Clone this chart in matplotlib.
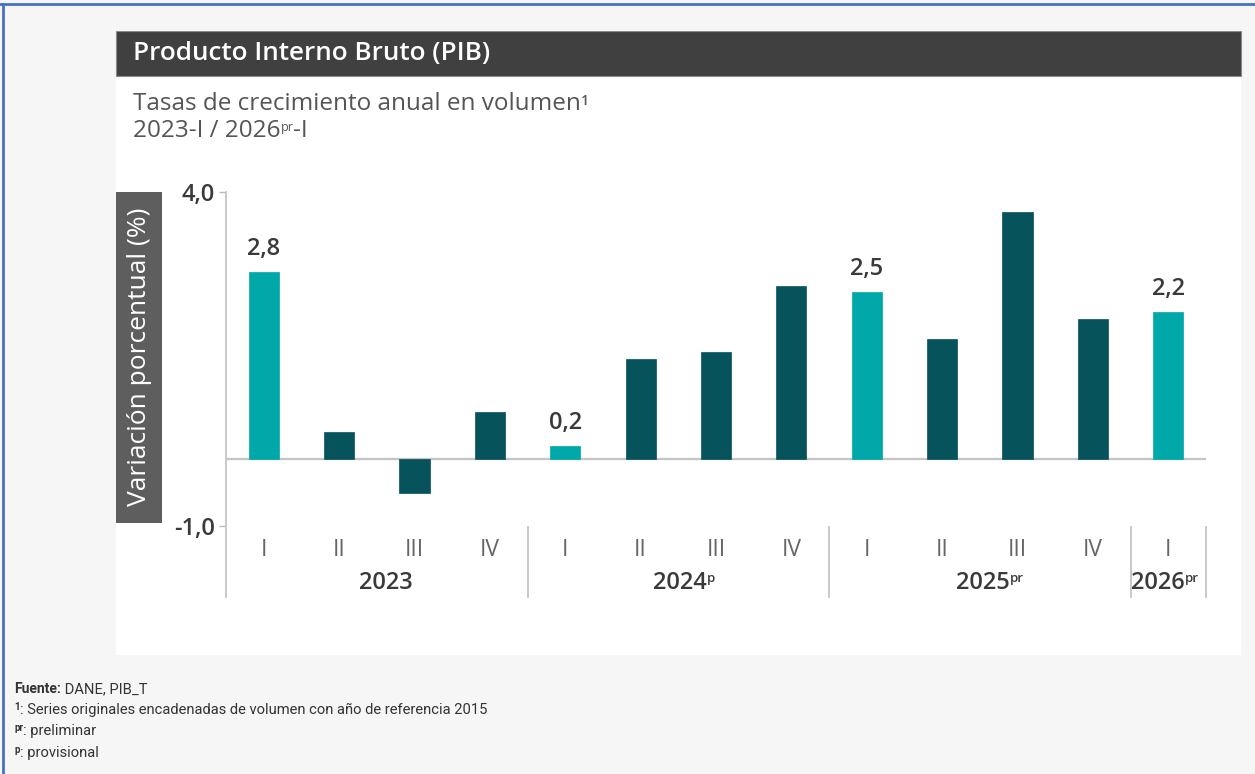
import matplotlib.pyplot as plt
import matplotlib.transforms as mtransforms
from matplotlib.patches import Rectangle
from matplotlib.lines import Line2D
import numpy as np

plt.rcParams['font.family'] = ['Open Sans', 'DejaVu Sans']

# datos
quarters = ['I', 'II', 'III', 'IV', 'I', 'II', 'III', 'IV', 'I', 'II', 'III', 'IV', 'I']
values = [2.8, 0.4, -0.5, 0.7, 0.2, 1.5, 1.6, 2.6, 2.5, 1.8, 3.7, 2.1, 2.2]
highlight = [True, False, False, False, True, False, False, False, True, False, False, False, True]
years = ['2023', '2024', '2025', '2026']
year_sup = ['', 'p', 'pr', 'pr']
year_pos = [1.62, 5.52, 9.54, 11.86]
group_edges = [3.5, 7.5, 11.5, 12.5]

c_light = '#00A8A9'
c_dark = '#07535C'
txt_dark = '#3a3a3a'
sub_color = '#555555'
W, H = 1255, 774

fig = plt.figure(figsize=(W / 100, H / 100), dpi=100, facecolor='#f6f6f6')


def fx(px):
    return px / W


def fy(py):
    return 1 - py / H


# ejes (se crean primero para colgar las anotaciones)
ax = fig.add_axes([fx(226), fy(526), fx(1206 - 226), (526 - 192) / H])
ax.set_facecolor('none')

# marco azul
fig.add_artist(Line2D([0, 1], [fy(4), fy(4)], color='#4472C4', lw=2))
fig.add_artist(Line2D([fx(3), fx(3)], [0, fy(4)], color='#4472C4', lw=2))

# panel blanco y banda del título
fig.add_artist(Rectangle((fx(116), fy(655)), fx(1241 - 116), (655 - 30) / H,
                         transform=fig.transFigure, facecolor='white', edgecolor='none', zorder=-1))
fig.add_artist(Rectangle((fx(116), fy(76)), fx(1241 - 116), (76 - 31) / H,
                         transform=fig.transFigure, facecolor='#404040', edgecolor='#8a8a8a', lw=0.8))
fig.text(fx(133), fy(54), 'Producto Interno Bruto (PIB)', color='white', fontsize=18.8,
         fontweight='semibold', va='center', ha='left')

t1 = fig.text(fx(133), fy(104), 'Tasas de crecimiento anual en volumen', color=sub_color,
              fontsize=17.5, va='center', ha='left')
ax.annotate('1', xy=(1, 0.92), xycoords=t1, va='top', ha='left', fontsize=10,
            fontweight='semibold', color=sub_color, annotation_clip=False)
t_sub = fig.text(fx(133), fy(131), '2023-I / 2026', color=sub_color, fontsize=17.5,
                 va='center', ha='left')
sub_sup = ax.annotate('pr', xy=(1, 0.92), xycoords=t_sub, va='top', ha='left',
                      fontsize=9, color=sub_color, annotation_clip=False)
ax.annotate('-I', xy=(1, 0), xycoords=(sub_sup, t_sub), va='bottom', ha='left',
            fontsize=17.5, color=sub_color, annotation_clip=False)

# caja de la etiqueta del eje y
fig.add_artist(Rectangle((fx(116), fy(523)), fx(162 - 116), (523 - 192) / H,
                         transform=fig.transFigure, facecolor='#5e5e5e', edgecolor='none'))
fig.text(fx(139), fy(357), 'Variación porcentual (%)', color='white', fontsize=19,
         rotation=90, va='center', ha='center')

# barras
x = np.arange(len(values))
colors = [c_light if h else c_dark for h in highlight]
ax.bar(x, values, width=0.4, color=colors, edgecolor=colors, lw=0.5, zorder=3)
ax.axhline(0, color='#c4c4c4', lw=1.6, zorder=2)

ax.set_xlim(-0.5, 12.5)
ax.set_ylim(-1, 4)
ax.set_yticks([-1, 4])
ax.set_yticklabels(['-1,0', '4,0'])
ax.tick_params(axis='y', length=5, width=1, color='#bdbdbd', pad=3,
               labelsize=17, labelcolor=txt_dark)
for lab in ax.get_yticklabels():
    lab.set_fontweight('semibold')
ax.set_xticks(x)
ax.set_xticklabels(quarters)
ax.tick_params(axis='x', length=0, pad=9, labelsize=16.5, labelcolor='#666666')

for s in ['top', 'right', 'bottom', 'left']:
    ax.spines[s].set_visible(False)

trans = mtransforms.blended_transform_factory(ax.transData, ax.transAxes)
bottom = -(597 - 526) / (526 - 192)
ax.plot([-0.5, -0.5], [1, bottom], transform=trans, color='#c4c4c4', lw=1.3, clip_on=False)
for e in group_edges:
    ax.plot([e, e], [-0.003, bottom], transform=trans, color='#c4c4c4', lw=1.3, clip_on=False)

# etiquetas de años
for yr, sup, xp in zip(years, year_sup, year_pos):
    t = ax.text(xp, -(583 - 526) / (526 - 192), yr, transform=trans, ha='center', va='center',
                fontsize=17, fontweight='semibold', color=txt_dark)
    if sup:
        ax.annotate(sup, xy=(1, 0.94), xycoords=t, va='top', ha='left', fontsize=9.5,
                    fontweight='semibold', color=txt_dark, annotation_clip=False)

# valores destacados
for xi, v, h in zip(x, values, highlight):
    if h:
        ax.annotate(f'{v:.1f}'.replace('.', ','), xy=(xi, v), xytext=(0, 8),
                    textcoords='offset points', ha='center', va='bottom', fontsize=17,
                    fontweight='semibold', color=txt_dark)

# notas al pie
foot_color = '#333333'
foot_font = ['Roboto', 'DejaVu Sans']
f1 = fig.text(fx(14), fy(689), 'Fuente:', fontsize=10, fontweight='bold', color=foot_color,
              family=foot_font, va='center')
ax.annotate(' DANE, PIB_T', xy=(1, 0), xycoords=f1, va='bottom', ha='left', fontsize=10.6,
            color=foot_color, family=foot_font, annotation_clip=False)

notes = [('1', ': Series originales encadenadas de volumen con año de referencia 2015', 711),
         ('pr', ': preliminar', 732),
         ('p', ': provisional', 754)]
for sup, txt, py in notes:
    s = fig.text(fx(14), fy(py - 4), sup, fontsize=7, fontweight='bold', color=foot_color,
                 family=foot_font, va='center')
    ax.annotate(txt, xy=(1, 0), xycoords=s, xytext=(0, -3.5), textcoords='offset points',
                va='bottom', ha='left', fontsize=10.6, color=foot_color,
                family=foot_font, annotation_clip=False)

fig.savefig('out.png', dpi=100, facecolor=fig.get_facecolor())
